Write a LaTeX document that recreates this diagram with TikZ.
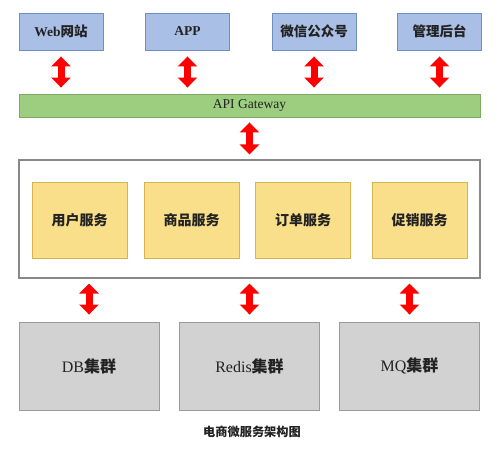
\documentclass[tikz,border=0pt]{standalone}
\usepackage{fontspec}
\setmainfont{Liberation Serif}
\newfontfamily\cjk{Noto Sans CJK SC}
\usetikzlibrary{arrows.meta,calc}
\definecolor{bluefill}{HTML}{A9BFE6}
\definecolor{blueline}{HTML}{6F8FC4}
\definecolor{greenfill}{HTML}{9DCD7F}
\definecolor{greenline}{HTML}{7DAA62}
\definecolor{yellowfill}{HTML}{F9DF8A}
\definecolor{yellowline}{HTML}{D6B44F}
\definecolor{grayfill}{HTML}{D2D2D2}
\definecolor{grayline}{HTML}{9A9A9A}
\definecolor{ctrline}{HTML}{888888}
\definecolor{txt}{HTML}{222222}
\tikzset{
  client/.style={draw=blueline, fill=bluefill, line width=0.9pt, minimum width=84pt, minimum height=37pt, inner sep=0pt, text=txt, font=\fontsize{13.5}{15}\selectfont\bfseries},
  gateway/.style={draw=greenline, fill=greenfill, line width=0.9pt, minimum width=461pt, minimum height=23pt, inner sep=0pt, text=txt, font=\fontsize{13.5}{15}\selectfont},
  container/.style={draw=ctrline, fill=white, line width=1.1pt, minimum width=461pt, minimum height=118pt, inner sep=0pt},
  service/.style={draw=yellowline, fill=yellowfill, line width=0.9pt, minimum width=95pt, minimum height=76pt, inner sep=0pt, text=txt, font=\fontsize{14}{16}\selectfont\cjk\bfseries},
  store/.style={draw=grayline, fill=grayfill, line width=0.9pt, minimum width=140pt, minimum height=88pt, inner sep=0pt, text=txt, font=\fontsize{16}{18}\selectfont},
  biarrow/.style={draw=red, line width=7pt, {Triangle[width=19pt,length=10pt]}-{Triangle[width=19pt,length=10pt]}},
}
\begin{document}
\begin{tikzpicture}[x=1pt,y=-1pt]
\useasboundingbox (0,0) rectangle (500,451);
% clients
\node[client] (web) at (61,31.5) {Web{\cjk 网站}};
\node[client] (app) at (187.5,31.5) {APP};
\node[client] (wx) at (314,31.5) {\cjk 微信公众号};
\node[client] (admin) at (439.5,31.5) {\cjk 管理后台};
% gateway
\node[gateway] (gw) at (249.5,105.5) {API Gateway};
% container
\node[container] (ctr) at (249.5,219) {};
\node[service] (user) at (79.5,220) {用户服务};
\node[service] (goods) at (191.5,220) {商品服务};
\node[service] (order) at (303,220) {订单服务};
\node[service] (promo) at (419.5,220) {促销服务};
% stores
\node[store] (db) at (89,366) {DB{\cjk\bfseries 集群}};
\node[store] (redis) at (249.5,366) {Redis{\cjk\bfseries 集群}};
\node[store] (mq) at (409.5,366) {MQ{\cjk\bfseries 集群}};
% caption
\node[text=txt, font=\fontsize{12.2}{14}\selectfont\cjk\bfseries] (cap) at (252,432) {电商微服务架构图};
% arrows
\foreach \c in {web,app,wx,admin}{
  \draw[biarrow, shorten <=6pt, shorten >=6pt] (\c.south) -- (\c.south |- gw.north);
}
\draw[biarrow, shorten <=5pt, shorten >=5pt] (gw.south) -- (gw.south |- ctr.north);
\foreach \c in {db,redis,mq}{
  \draw[biarrow, shorten <=5pt, shorten >=7pt] (\c.north |- ctr.south) -- (\c.north);
}
\end{tikzpicture}
\end{document}
